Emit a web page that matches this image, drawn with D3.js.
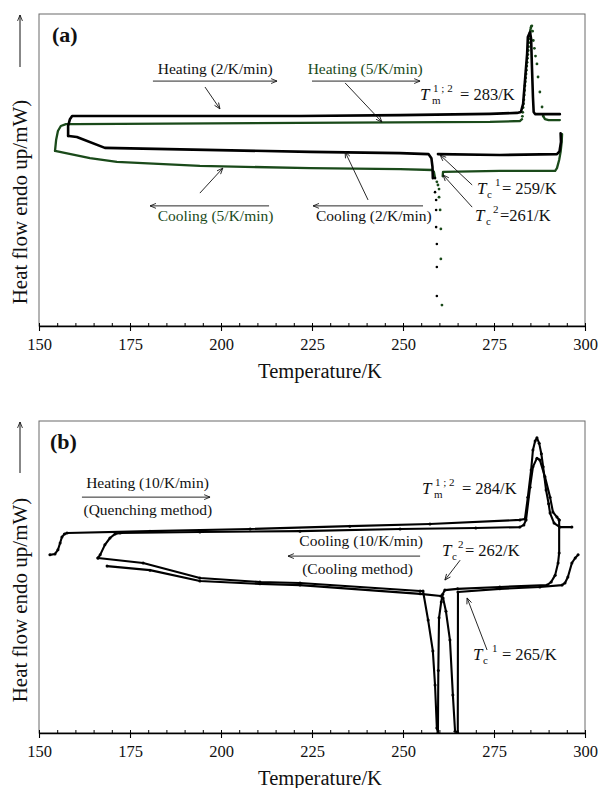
<!DOCTYPE html>
<html>
<head>
<meta charset="utf-8">
<script src="https://cdn.jsdelivr.net/npm/d3@7"></script>
<style>
  body { margin: 0; background: #fff; }
  text { font-family: "Liberation Serif", "Times New Roman", serif; fill: #111; }
</style>
</head>
<body>
<svg id="chart" width="601" height="788"></svg>
<script>
// Temperature axis ticks (K)
const tempTicks = d3.range(150, 301, 25);
const minorTempTicks = d3.range(150, 301, 5);

// ---- Panel (a): DSC at 2 K/min (black) and 5 K/min (green); [T (K), heat flow (mW, offset)] ----
const heat2 = [[158.0,6.09],[158.0,6.41],[158.5,6.63],[159.1,6.73],[161.3,6.73],[221.7,6.73],[249.2,6.76],[273.9,6.80],[281.3,6.83],[282.4,6.86],[282.7,6.99],[283.0,7.12],[283.5,7.85],[284.1,8.72],[284.3,9.26],[284.9,9.42],[285.2,9.20],[285.4,8.40],[285.7,7.34],[285.9,6.86],[286.3,6.79],[287.6,6.79],[293.1,6.79]];
const cool2Upper = [[293.3,6.18],[293.4,5.90],[293.0,5.60],[292.3,5.51],[276.6,5.48],[259.6,5.51]];
const cool2Spike = [[258.8,4.74],[258.8,4.29],[259.1,4.04],[259.1,3.72],[259.1,3.17],[259.3,2.63],[259.3,1.89],[259.3,0.96]];
const cool2Lower = [[258.2,4.74],[258.1,5.10],[257.8,5.38],[257.0,5.51],[249.2,5.54],[224.5,5.58],[168.1,5.71],[160.4,6.06],[158.2,6.09],[158.0,6.09]];

const heat5 = [[154.4,5.61],[154.7,5.96],[155.2,6.25],[156.0,6.41],[157.4,6.47],[159.9,6.47],[221.7,6.51],[273.9,6.54],[282.1,6.57],[282.7,6.63]];
const heat5Peak = [[282.8,6.72],[282.9,6.85],[283.0,7.00],[283.1,7.12],[283.2,7.25],[283.3,7.40],[283.4,7.55],[283.5,7.70],[283.6,7.83],[283.7,7.95],[283.8,8.08],[283.9,8.20],[284.0,8.33],[284.1,8.45],[284.2,8.58],[284.3,8.70],[284.4,8.83],[284.5,8.95],[284.6,9.08],[284.7,9.20],[284.8,9.30],[284.9,9.40],[285.0,9.48],[285.1,9.55],[285.25,9.60],[285.4,9.62],[285.6,9.45],[285.8,9.15],[286.1,8.90],[286.4,8.65],[286.8,8.40],[287.1,7.98],[287.6,7.50],[288.2,7.02],[288.5,6.73]];
const heat5Tail = [[288.5,6.73],[289.0,6.63],[290.0,6.60],[293.1,6.60]];
const cool5Upper = [[293.7,6.15],[293.6,5.90],[293.3,5.58],[292.9,5.32],[292.3,5.06],[291.8,4.97],[291.2,4.97],[276.6,4.97],[261.0,4.94],[260.9,4.80]];
const cool5Spike = [[259.3,4.62],[259.6,4.52],[259.9,4.39],[259.9,4.13],[260.2,3.72],[260.4,3.11],[260.4,2.15],[260.7,0.67]];
const cool5Lower = [[258.8,4.74],[258.5,4.94],[258.0,5.00],[249.2,5.03],[224.5,5.06],[194.2,5.13],[171.4,5.26],[164.0,5.38],[154.4,5.61]];

// ---- Panel (b): 10 K/min, quenching method and cooling method ----
const quenchHeat = [[153.0,5.71],[154.4,5.74],[155.2,5.87],[155.8,6.09],[156.3,6.28],[157.0,6.38],[157.7,6.41],[180.5,6.47],[208.0,6.54],[235.4,6.63],[257.4,6.70],[282.1,6.83],[283.5,6.86],[284.3,7.56],[285.2,8.43],[285.7,9.07],[286.3,9.36],[286.8,9.46],[287.4,9.29],[288.0,8.95],[288.5,8.53],[289.3,7.79],[290.0,7.35],[290.4,7.05],[291.5,6.73],[293.1,6.60],[296.4,6.60]];
const coolMethodHeat = [[166.2,5.61],[166.8,5.71],[168.1,6.03],[169.5,6.25],[170.9,6.38],[172.3,6.41],[194.2,6.44],[221.7,6.47],[249.2,6.54],[270.0,6.57],[282.1,6.60],[283.2,6.67],[283.8,6.83],[284.9,7.88],[285.7,8.53],[286.8,8.81],[287.6,8.75],[289.0,8.21],[290.4,7.56],[291.2,7.08],[292.3,6.92],[292.9,6.83]];
const coolRun2 = [[292.9,6.83],[292.9,5.77],[292.6,5.45],[291.8,5.06],[290.7,4.84],[289.6,4.74],[276.6,4.68],[265.0,4.62],[261.5,4.58],[260.9,4.45],[260.5,4.20],[259.9,3.69],[259.7,2.00],[259.6,0.00],[259.3,0.16],[258.8,1.54],[258.2,2.63],[256.9,3.62],[255.5,4.55],[254.7,4.55],[221.7,4.81],[210.7,4.84],[194.2,4.97],[178.6,5.45],[166.2,5.61]];
const coolRun1 = [[298.1,5.71],[297.3,5.61],[296.4,5.45],[295.3,5.00],[294.5,4.81],[293.7,4.74],[287.6,4.68],[276.6,4.62],[265.1,4.52],[265.05,0.00],[264.3,0.06],[263.7,1.22],[262.9,2.98],[261.8,3.90],[261.0,4.33],[260.4,4.39],[254.7,4.46],[221.7,4.74],[210.7,4.78],[194.2,4.87],[180.5,5.22],[168.7,5.35]];

const GREEN = "#1a4a1a";
const INK = "#111";

const svg = d3.select("#chart");
const defs = svg.append("defs");
defs.append("marker")
  .attr("id", "head")
  .attr("viewBox", "0 0 10 10")
  .attr("refX", 9.5).attr("refY", 5)
  .attr("markerWidth", 7).attr("markerHeight", 7)
  .attr("markerUnits", "userSpaceOnUse")
  .attr("orient", "auto")
  .append("path")
  .attr("d", "M1,1.5 L9.5,5 L1,8.5")
  .attr("fill", "none").attr("stroke", INK).attr("stroke-width", 1.2);

const x = d3.scaleLinear().domain([150, 300]).range([39, 585]);

function makePanel(top, bottom, id) {
  const y = d3.scaleLinear().domain([0, 10]).range([bottom, top]);
  const g = svg.append("g");
  defs.append("clipPath").attr("id", id)
    .append("rect").attr("x", 39).attr("y", top).attr("width", 546).attr("height", bottom - top);

  g.append("rect")
    .attr("x", 39).attr("y", top).attr("width", 546).attr("height", bottom - top)
    .attr("fill", "none").attr("stroke", "#6a6a6a").attr("stroke-width", 1);

  const ax = g.append("g").attr("transform", `translate(0,${bottom})`)
    .call(d3.axisBottom(x).tickValues(tempTicks).tickSize(5).tickSizeOuter(0).tickPadding(7.3));
  ax.select(".domain").attr("stroke", "#000").attr("stroke-width", 1.3);
  ax.selectAll(".tick line").attr("stroke", "#000").attr("stroke-width", 1.1);
  ax.selectAll(".tick text")
    .style("font-size", "16.5px").style("font-family", '"Liberation Serif", serif').attr("fill", INK);

  const minor = g.append("g").attr("transform", `translate(0,${bottom})`)
    .call(d3.axisTop(x).tickValues(minorTempTicks).tickSize(3).tickSizeOuter(0).tickFormat(""));
  minor.select(".domain").remove();
  minor.selectAll(".tick line").attr("stroke", "#000").attr("stroke-width", 1);

  g.append("text")
    .attr("x", 320).attr("y", bottom + 52)
    .attr("text-anchor", "middle")
    .style("font-size", "20.5px")
    .text("Temperature/K");

  const plot = g.append("g").attr("clip-path", `url(#${id})`);
  return { g, plot, y };
}

function drawLine(layer, y, data, color, width) {
  const line = d3.line().x(d => x(d[0])).y(d => y(d[1]));
  layer.append("path").datum(data)
    .attr("d", line)
    .attr("fill", "none").attr("stroke", color)
    .attr("stroke-width", width)
    .attr("stroke-linejoin", "round").attr("stroke-linecap", "round");
}

function drawDots(layer, y, data, color, r) {
  layer.append("g").selectAll("circle").data(data).join("circle")
    .attr("cx", d => x(d[0])).attr("cy", d => y(d[1]))
    .attr("r", r).attr("fill", color);
}

function note(g, px, py, str, color, size, anchor) {
  g.append("text").attr("x", px).attr("y", py)
    .attr("text-anchor", anchor || "middle")
    .style("font-size", (size || 15.5) + "px")
    .style("fill", color || INK)
    .text(str);
}

function pointer(g, x1, y1, x2, y2) {
  g.append("line")
    .attr("x1", x1).attr("y1", y1).attr("x2", x2).attr("y2", y2)
    .attr("stroke", INK).attr("stroke-width", 0.9)
    .attr("marker-end", "url(#head)");
}

function symbolLabel(g, px, py, sub, sup, rest, gaps) {
  g.append("text").attr("x", px).attr("y", py)
    .style("font-size", "17px").style("font-style", "italic").text("T");
  g.append("text").attr("x", px + gaps[0]).attr("y", py + 4)
    .style("font-size", "11px").text(sub);
  g.append("text").attr("x", px + gaps[1]).attr("y", py - 8)
    .style("font-size", "11px").text(sup);
  g.append("text").attr("x", px + gaps[2]).attr("y", py)
    .style("font-size", "16.5px").text(rest);
}

function yTitle(g, cy, arrowTop, arrowBottom) {
  g.append("text")
    .attr("transform", `translate(27,${cy}) rotate(-90)`)
    .attr("text-anchor", "middle")
    .style("font-size", "21px")
    .text("Heat flow endo up/mW)");
  g.append("line")
    .attr("x1", 20).attr("y1", arrowBottom).attr("x2", 20).attr("y2", arrowTop)
    .attr("stroke", INK).attr("stroke-width", 1)
    .attr("marker-end", "url(#head)");
}

// ================= Panel (a) =================
{
  const { g, plot, y } = makePanel(14, 326, "clipA");

  drawLine(plot, y, cool5Lower, GREEN, 2.3);
  drawLine(plot, y, heat5, GREEN, 2.3);
  drawLine(plot, y, heat5Tail, GREEN, 2.3);
  drawLine(plot, y, cool5Upper, GREEN, 2.3);
  drawDots(plot, y, heat5Peak, GREEN, 1.4);
  drawDots(plot, y, cool5Spike, GREEN, 1.4);

  drawLine(plot, y, cool2Lower, "#000", 2.6);
  drawLine(plot, y, heat2, "#000", 2.6);
  drawLine(plot, y, cool2Upper, "#000", 2.6);
  drawDots(plot, y, cool2Spike, "#000", 1.3);

  g.append("text").attr("x", 52).attr("y", 42)
    .style("font-size", "22px").style("font-weight", "bold").text("(a)");

  yTitle(g, 202, 15, 67);

  note(g, x(198.4), y(8.08), "Heating (2/K/min)");
  pointer(g, x(181.3), y(7.85), x(215.4), y(7.85));
  pointer(g, x(195.6), y(7.66), x(199.7), y(6.96));

  note(g, x(239.6), y(8.08), "Heating (5/K/min)", GREEN);
  pointer(g, x(225.0), y(7.85), x(254.7), y(7.85));
  pointer(g, x(234.1), y(7.79), x(244.2), y(6.54));

  symbolLabel(g, x(254.7), y(7.24), "m", "1 ; 2", "= 283/K", [12, 13, 40]);

  note(g, x(198.5), y(3.37), "Cooling (5/K/min)", GREEN);
  pointer(g, x(213.2), y(3.85), x(180.5), y(3.85));
  pointer(g, x(194.2), y(4.26), x(200.5), y(5.06));

  note(g, x(242.0), y(3.37), "Cooling (2/K/min)");
  pointer(g, x(255.5), y(3.85), x(225.3), y(3.85));
  pointer(g, x(240.4), y(4.04), x(234.1), y(5.58));

  symbolLabel(g, x(270.3), y(4.23), "c", "1", "= 259/K", [10, 18, 25]);
  pointer(g, x(269.0), y(4.52), x(260.2), y(5.48));
  symbolLabel(g, x(269.8), y(3.37), "c", "2", "=261/K", [11, 18, 25]);
  pointer(g, x(269.0), y(3.81), x(261.0), y(4.84));
}

// ================= Panel (b) =================
{
  const { g, plot, y } = makePanel(421, 733, "clipB");

  [quenchHeat, coolMethodHeat, coolRun2, coolRun1].forEach(series => {
    drawLine(plot, y, series, "#000", 2.1);
    drawDots(plot, y, series, "#000", 1.5);
  });

  g.append("text").attr("x", 50).attr("y", 449)
    .style("font-size", "22px").style("font-weight", "bold").text("(b)");

  yTitle(g, 600, 422, 473);

  note(g, x(179.8), y(7.85), "Heating (10/K/min)");
  pointer(g, x(161.8), y(7.56), x(197.0), y(7.56));
  note(g, x(179.9), y(6.99), "(Quenching method)");

  note(g, x(238.5), y(5.99), "Cooling (10/K/min)");
  pointer(g, x(254.7), y(5.67), x(218.4), y(5.67));
  note(g, x(237.5), y(5.10), "(Cooling method)");

  symbolLabel(g, x(255.2), y(7.66), "m", "1 ; 2", "= 284/K", [12, 13, 40]);

  symbolLabel(g, x(260.7), y(5.67), "c", "2", "= 262/K", [10, 16, 23]);
  pointer(g, x(265.7), y(5.54), x(261.5), y(4.90));

  symbolLabel(g, x(269.2), y(2.34), "c", "1", "= 265/K", [10, 19, 29]);
  pointer(g, x(273.1), y(2.66), x(267.6), y(4.33));
}
</script>
</body>
</html>
